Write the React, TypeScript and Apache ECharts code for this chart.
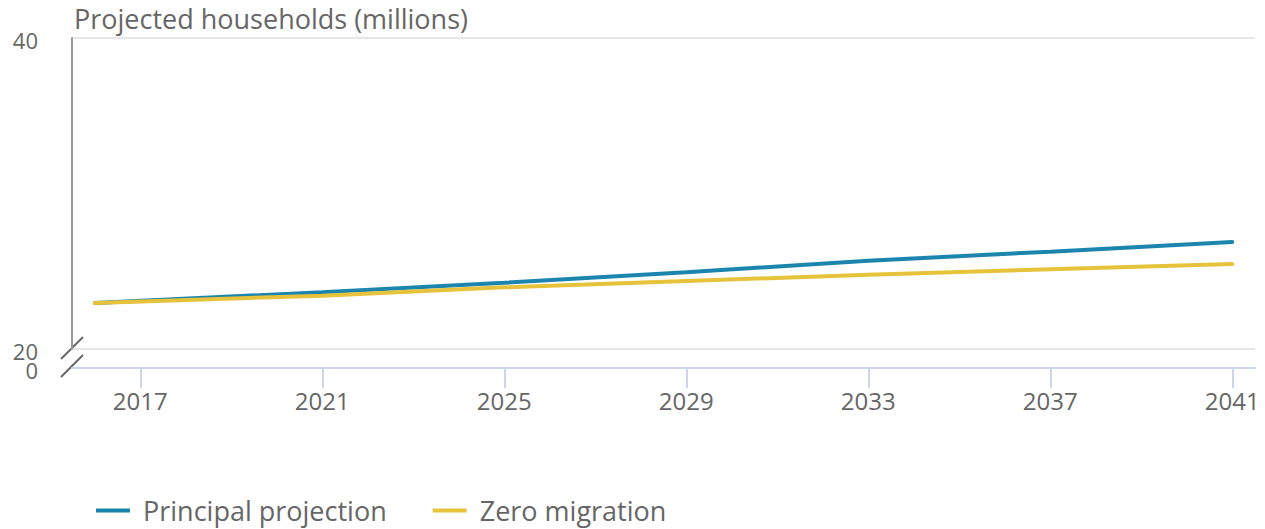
import React, { useEffect, useRef } from "react";
import * as echarts from "echarts";

const tickYears = [2017, 2021, 2025, 2029, 2033, 2037, 2041];
const readYears = [2016, 2021, 2025, 2029, 2033, 2037, 2041];
const principal = [22.96, 23.65, 24.26, 24.93, 25.68, 26.26, 26.88];
const zeroMigration = [22.96, 23.43, 23.97, 24.37, 24.78, 25.13, 25.47];
const seriesNames = ["Principal projection", "Zero migration"];
const yTicks = [20, 40];
const title = "Projected households (millions)";

const FONT = "'Open Sans', 'Noto Sans', sans-serif";
const TEXT = "#666666";

export default function App() {
  const ref = useRef<HTMLDivElement>(null);
  useEffect(() => {
    document.body.style.margin = "0";
    const chart = echarts.init(ref.current!, null, { renderer: "svg" });
    chart.setOption({
      animation: false,
      textStyle: { fontFamily: FONT },
      grid: { left: 72, right: 10, top: 38, bottom: 180 },
      xAxis: {
        type: "value",
        min: 2015.5,
        max: 2041.5,
        offset: 19,
        axisLine: { show: true, onZero: false, lineStyle: { color: "#ccd6eb", width: 2 } },
        axisTick: {
          show: true,
          customValues: tickYears,
          length: 20,
          lineStyle: { color: "#ccd6eb", width: 2 },
        },
        axisLabel: {
          customValues: tickYears,
          showMinLabel: true,
          showMaxLabel: true,
          color: TEXT,
          fontSize: 24,
          fontFamily: FONT,
          margin: 20,
          formatter: (v: number) => String(v),
        },
        splitLine: { show: false },
      },
      yAxis: {
        type: "value",
        min: yTicks[0],
        max: yTicks[1],
        interval: 20,
        axisLine: { show: true, lineStyle: { color: "#999999", width: 2 } },
        axisTick: { show: false },
        axisLabel: {
          color: TEXT,
          fontSize: 22,
          lineHeight: 16,
          fontFamily: FONT,
          margin: 34,
          formatter: (v: number) => "{a|" + v + "}",
          rich: { a: { fontSize: 22, lineHeight: 16, color: TEXT, fontFamily: FONT, padding: [3, 0, 0, 0] } },
        },
        splitLine: { lineStyle: { color: "#e6e6e6", width: 2 } },
      },
      legend: {
        left: 91,
        top: 492,
        icon: "rect",
        itemWidth: 34,
        itemHeight: 4,
        itemGap: 46,
        textStyle: { color: TEXT, fontSize: 27, fontFamily: FONT, padding: [0, 0, 0, 8] },
        data: seriesNames,
      },
      graphic: [
        { type: "text", x: 38, y: 370, style: { text: "0", fill: TEXT, font: `22px ${FONT}`, lineHeight: 16, align: "right", verticalAlign: "middle" } },
        { type: "line", shape: { x1: 61, y1: 359, x2: 83, y2: 337 }, style: { stroke: "#666666", lineWidth: 2 } },
        { type: "line", shape: { x1: 61, y1: 377, x2: 83, y2: 355 }, style: { stroke: "#666666", lineWidth: 2 } },
        { type: "text", x: 74, y: 5, style: { text: title, fill: TEXT, font: `27px ${FONT}` } },
      ],
      series: [
        {
          name: seriesNames[0],
          type: "line",
          data: readYears.map((y, i) => [y, principal[i]]),
          showSymbol: false,
          symbol: "none",
          lineStyle: { color: "#1b85ad", width: 4, cap: "round" },
          itemStyle: { color: "#1b85ad" },
        },
        {
          name: seriesNames[1],
          type: "line",
          data: readYears.map((y, i) => [y, zeroMigration[i]]),
          showSymbol: false,
          symbol: "none",
          lineStyle: { color: "#e6c33a", width: 4, cap: "round" },
          itemStyle: { color: "#e6c33a" },
        },
      ],
    });
    return () => chart.dispose();
  }, []);
  return <div ref={ref} style={{ width: 1265, height: 529 }} />;
}
